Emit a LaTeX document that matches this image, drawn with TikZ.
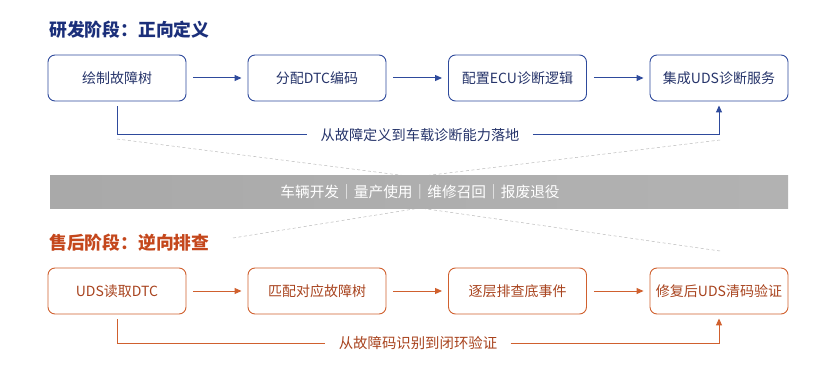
\documentclass[tikz,border=0pt]{standalone}
\usepackage{fontspec}
\setmainfont{Noto Sans CJK SC}
\usetikzlibrary{arrows.meta,calc}
\definecolor{bluemain}{HTML}{2E4A9C}
\definecolor{bluetitle}{HTML}{1B2F7A}
\definecolor{bluetext}{HTML}{26346A}
\definecolor{orgmain}{HTML}{D0602E}
\definecolor{orgtitle}{HTML}{C4471C}
\definecolor{orgtext}{HTML}{A8431E}
\definecolor{bandgray}{HTML}{AEAEAE}
\tikzset{
  bbox/.style={draw=bluemain, line width=0.9pt, rounded corners=7pt, minimum width=138pt, minimum height=46pt, text=bluetext, font=\fontsize{14}{16}\selectfont, inner sep=0pt},
  obox/.style={draw=orgmain, line width=0.9pt, rounded corners=7pt, minimum width=138pt, minimum height=46pt, text=orgtext, font=\fontsize{14}{16}\selectfont, inner sep=0pt},
  barr/.style={draw=bluemain, line width=1pt, -{Triangle[length=7pt,width=6pt]}},
  oarr/.style={draw=orgmain, line width=1pt, -{Triangle[length=7pt,width=6pt]}},
  dashline/.style={draw=gray!55, line width=0.5pt, dash pattern=on 3pt off 2.5pt},
}
\begin{document}
\begin{tikzpicture}[x=1pt,y=-1pt]
\useasboundingbox (0,0) rectangle (832,390);
% titles
\node[anchor=west, text=bluetitle, font=\bfseries\fontsize{17.8}{20}\selectfont, inner sep=0pt] (t1) at (49,30) {研发阶段：正向定义};
\node[anchor=west, text=orgtitle, font=\bfseries\fontsize{17.8}{20}\selectfont, inner sep=0pt] (t2) at (49,243) {售后阶段：逆向排查};
% dashed guide lines
\coordinate (d1) at (117,139);
\coordinate (d2) at (720,140);
\coordinate (d3) at (415,177);
\coordinate (d4) at (233,238);
\coordinate (d5) at (720,251);
\coordinate (d6) at (420,208);
\draw[dashline] (d1) -- (d3);
\draw[dashline] (d2) -- (d3);
\draw[dashline] (d4) -- (d6);
\draw[dashline] (d5) -- (d6);
% band
\shade[left color=bandgray!97!black, right color=bandgray!95, middle color=bandgray] (50,176) rectangle (788,208);
\node[text=white, font=\fontsize{14.7}{16}\selectfont] (band) at (420,192) {车辆开发｜量产使用｜维修召回｜报废退役};
% top row
\node[bbox] (a1) at (117,78) {绘制故障树};
\node[bbox] (a2) at (317,78) {分配DTC编码};
\node[bbox] (a3) at (517.5,78) {配置ECU诊断逻辑};
\node[bbox] (a4) at (719,78) {集成UDS诊断服务};
\draw[barr] ([xshift=7pt]a1.east) -- ([xshift=-6pt]a2.west);
\draw[barr] ([xshift=7pt]a2.east) -- ([xshift=-6pt]a3.west);
\draw[barr] ([xshift=7pt]a3.east) -- ([xshift=-6pt]a4.west);
\node[text=bluetext, font=\fontsize{14.2}{16}\selectfont] (l1) at (420,135) {从故障定义到车载诊断能力落地};
\draw[draw=bluemain, line width=1pt] ([yshift=-5pt]a1.south) |- ([xshift=-10pt]l1.west);
\draw[barr] ([xshift=10pt]l1.east) -| ([yshift=-4pt]a4.south);
% bottom row
\node[obox] (b1) at (117,291) {UDS读取DTC};
\node[obox] (b2) at (317,291) {匹配对应故障树};
\node[obox] (b3) at (517.5,291) {逐层排查底事件};
\node[obox] (b4) at (719,291) {修复后UDS清码验证};
\draw[oarr] ([xshift=7pt]b1.east) -- ([xshift=-6pt]b2.west);
\draw[oarr] ([xshift=7pt]b2.east) -- ([xshift=-6pt]b3.west);
\draw[oarr] ([xshift=7pt]b3.east) -- ([xshift=-6pt]b4.west);
\node[text=orgtext, font=\fontsize{14.4}{16}\selectfont] (l2) at (418,343) {从故障码识别到闭环验证};
\draw[draw=orgmain, line width=1pt] ([yshift=-5pt]b1.south) |- ([xshift=-10pt]l2.west);
\draw[oarr] ([xshift=10pt]l2.east) -| ([yshift=-4pt]b4.south);
\end{tikzpicture}
\end{document}
